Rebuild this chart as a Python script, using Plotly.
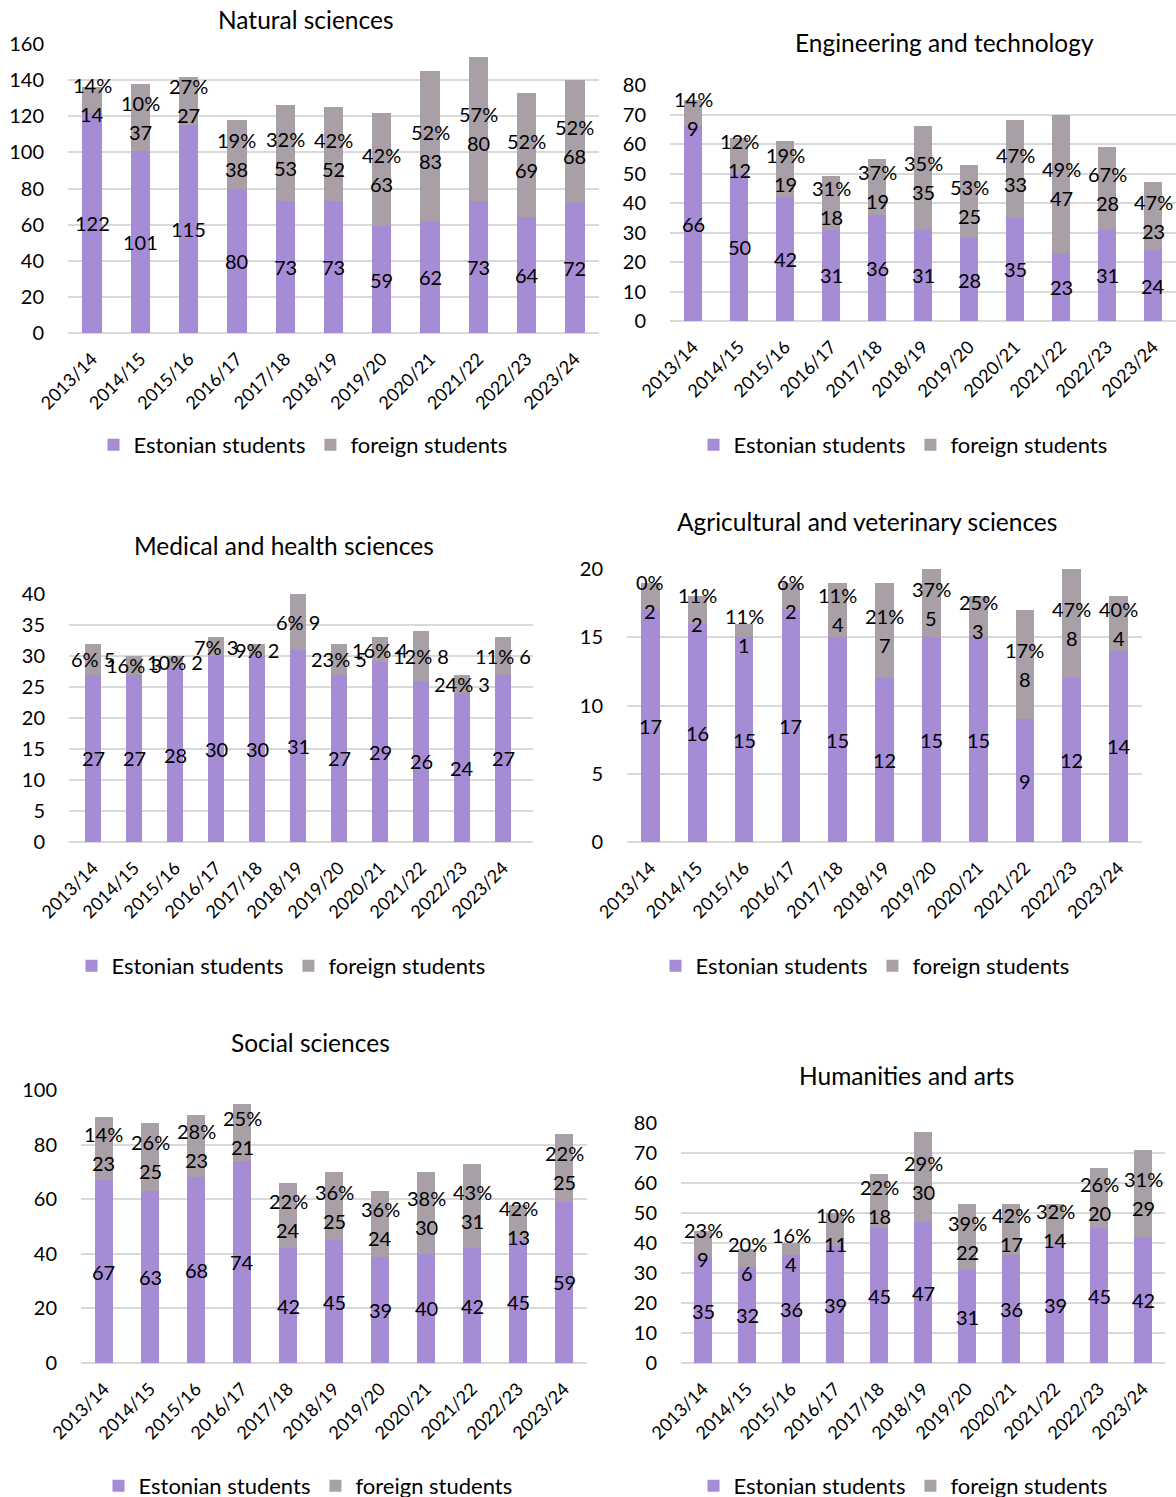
import plotly.graph_objects as go

W, H = 1176, 1497

years = ["2013/14", "2014/15", "2015/16", "2016/17", "2017/18", "2018/19",
         "2019/20", "2020/21", "2021/22", "2022/23", "2023/24"]

natural_est = [122, 101, 115, 80, 73, 73, 59, 62, 73, 64, 72]
natural_for = [14, 37, 27, 38, 53, 52, 63, 83, 80, 69, 68]
natural_pct = ["14%", "10%", "27%", "19%", "32%", "42%", "42%", "52%", "57%", "52%", "52%"]

eng_est = [66, 50, 42, 31, 36, 31, 28, 35, 23, 31, 24]
eng_for = [9, 12, 19, 18, 19, 35, 25, 33, 47, 28, 23]
eng_pct = ["14%", "12%", "19%", "31%", "37%", "35%", "53%", "47%", "49%", "67%", "47%"]

med_est = [27, 27, 28, 30, 30, 31, 27, 29, 26, 24, 27]
med_for = [5, 3, 2, 3, 2, 9, 5, 4, 8, 3, 6]
med_pct = ["6%", "16%", "10%", "7%", "9%", "6%", "23%", "16%", "12%", "24%", "11%"]

agri_est = [17, 16, 15, 17, 15, 12, 15, 15, 9, 12, 14]
agri_for = [2, 2, 1, 2, 4, 7, 5, 3, 8, 8, 4]
agri_pct = ["0%", "11%", "11%", "6%", "11%", "21%", "37%", "25%", "17%", "47%", "40%"]

soc_est = [67, 63, 68, 74, 42, 45, 39, 40, 42, 45, 59]
soc_for = [23, 25, 23, 21, 24, 25, 24, 30, 31, 13, 25]
soc_pct = ["14%", "26%", "28%", "25%", "22%", "36%", "36%", "38%", "43%", "42%", "22%"]

hum_est = [35, 32, 36, 39, 45, 47, 31, 36, 39, 45, 42]
hum_for = [9, 6, 4, 11, 18, 30, 22, 17, 14, 20, 29]
hum_pct = ["23%", "20%", "16%", "10%", "22%", "29%", "39%", "42%", "32%", "26%", "31%"]

titles = ["Natural sciences", "Engineering and technology", "Medical and health sciences",
          "Agricultural and veterinary sciences", "Social sciences", "Humanities and arts"]
series_est = [natural_est, eng_est, med_est, agri_est, soc_est, hum_est]
series_for = [natural_for, eng_for, med_for, agri_for, soc_for, hum_for]
series_pct = [natural_pct, eng_pct, med_pct, agri_pct, soc_pct, hum_pct]
y_max = [160, 80, 40, 20, 100, 80]
y_dtick = [20, 10, 5, 5, 20, 10]

# layout (pixels): plot area x0, x1, ytop, ybottom; title center; legend center
plot_box = [(68, 599, 44, 333), (670, 1176, 85, 321), (69, 533, 594, 842),
            (627, 1142, 569, 842), (81, 587, 1090, 1363), (681, 1165, 1123, 1363)]
title_pos = [(306, 19), (944, 42), (284, 546), (867, 521), (310, 1042), (906, 1075)]
legend_pos = [(303, 445), (903, 445), (281, 966), (865, 966), (308, 1486), (903, 1486)]
inline_labels = [False, False, True, False, False, False]

PURPLE = "#A68BD5"
GREY = "#A89FA7"
FONT = "Lato"
FS = 20

fig = go.Figure()
annotations = []
layout = {}

for k in range(6):
    sfx = "" if k == 0 else str(k + 1)
    xa, ya = "x" + sfx, "y" + sfx
    lg = "legend" + sfx
    est, fo, pct = series_est[k], series_for[k], series_pct[k]
    fig.add_trace(go.Bar(x=years, y=est, name="Estonian students", marker_color=PURPLE,
                         marker_line_width=0, xaxis=xa, yaxis=ya, legend=lg))
    fig.add_trace(go.Bar(x=years, y=fo, name="foreign students", marker_color=GREY,
                         marker_line_width=0, xaxis=xa, yaxis=ya, legend=lg))
    x0, x1, yt, yb = plot_box[k]
    layout["xaxis" + sfx] = dict(domain=[x0 / W, x1 / W], anchor=ya, type="category",
                                 tickangle=-45, showgrid=False, showline=False, ticks="",
                                 automargin=False,
                                 tickfont=dict(family=FONT, size=18, color="#000"),
                                 ticklabelstandoff=11, fixedrange=True)
    layout["yaxis" + sfx] = dict(domain=[1 - yb / H, 1 - yt / H], anchor=xa,
                                 range=[0, y_max[k]], dtick=y_dtick[k],
                                 gridcolor="#D9D9D9", gridwidth=1.5, automargin=False,
                                 zeroline=True, zerolinecolor="#D9D9D9", zerolinewidth=1.5,
                                 showline=False, ticks="", ticklabelstandoff=23,
                                 tickfont=dict(family=FONT, size=FS, color="#000"))
    lx, ly = legend_pos[k]
    layout[lg] = dict(x=lx / W, y=1 - ly / H, xanchor="center", yanchor="middle",
                      orientation="h", font=dict(family=FONT, size=22, color="#000"),
                      bgcolor="rgba(0,0,0,0)", traceorder="normal")
    tx, ty = title_pos[k]
    annotations.append(dict(x=tx / W, y=1 - ty / H, xref="paper", yref="paper",
                            text=titles[k], showarrow=False, xanchor="center", yanchor="middle",
                            font=dict(family=FONT, size=24.5, color="#000")))
    for i, yr in enumerate(years):
        annotations.append(dict(x=yr, y=est[i] / 2, xref=xa, yref=ya, text=str(est[i]),
                                showarrow=False, font=dict(family=FONT, size=FS, color="#000")))
        fc = est[i] + fo[i] / 2
        if inline_labels[k]:
            annotations.append(dict(x=yr, y=fc, xref=xa, yref=ya, text=f"{pct[i]} {fo[i]}",
                                    showarrow=False, font=dict(family=FONT, size=FS, color="#000")))
        else:
            annotations.append(dict(x=yr, y=fc, xref=xa, yref=ya, text=pct[i], yshift=14.5,
                                    showarrow=False, font=dict(family=FONT, size=FS, color="#000")))
            annotations.append(dict(x=yr, y=fc, xref=xa, yref=ya, text=str(fo[i]), yshift=-14.5,
                                    showarrow=False, font=dict(family=FONT, size=FS, color="#000")))

fig.update_layout(**layout)
fig.update_layout(width=W, height=H, margin=dict(l=0, r=0, t=0, b=0, autoexpand=False),
                  barmode="stack", bargap=0.6, plot_bgcolor="white", paper_bgcolor="white",
                  font=dict(family=FONT, size=FS, color="#000"), annotations=annotations)

fig.write_html("out.html")
